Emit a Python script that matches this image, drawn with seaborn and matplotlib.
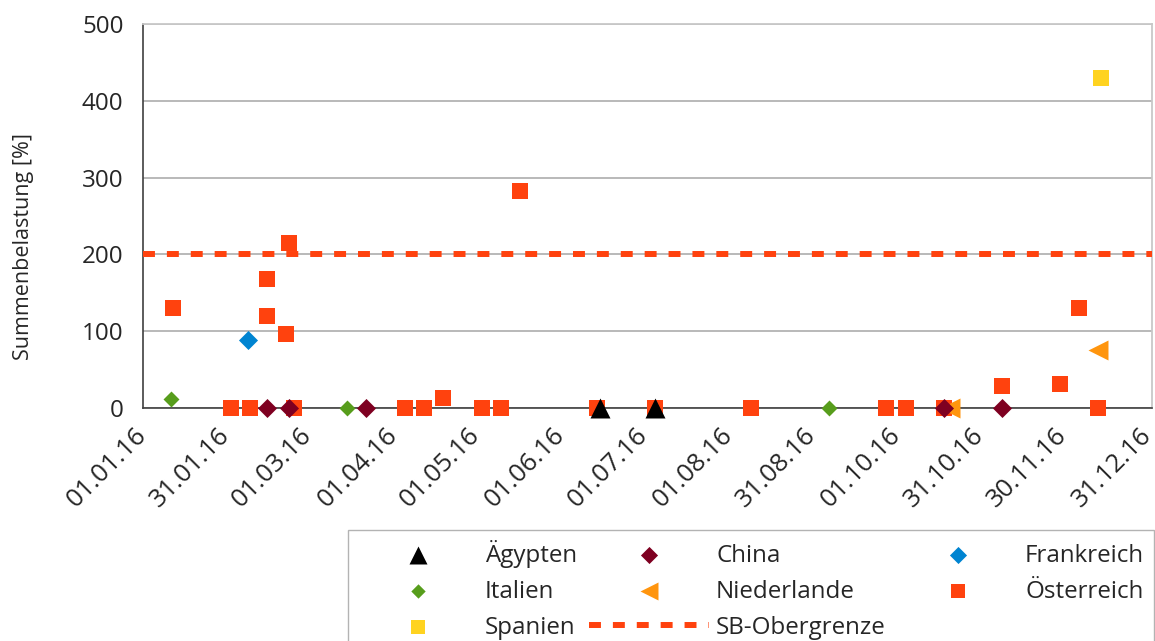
import pandas as pd
import matplotlib.pyplot as plt
import matplotlib.dates as mdates
import seaborn as sns

# Daten (Datum der Probe, Summenbelastung in %)
aegypten_datum = ["15.06.16", "05.07.16"]
aegypten_wert = [0, 0]

china_datum = ["15.02.16", "23.02.16", "22.03.16", "18.10.16", "08.11.16"]
china_wert = [0, 0, 0, 0, 0]

frankreich_datum = ["08.02.16"]
frankreich_wert = [88]

italien_datum = ["11.01.16", "15.03.16", "06.09.16"]
italien_wert = [12, 0, 0]

niederlande_datum = ["20.10.16", "13.12.16"]
niederlande_wert = [0, 76]

oesterreich_datum = ["12.01.16", "02.02.16", "09.02.16", "15.02.16", "15.02.16", "22.02.16",
                     "23.02.16", "25.02.16", "05.04.16", "12.04.16", "19.04.16", "03.05.16",
                     "10.05.16", "17.05.16", "14.06.16", "05.07.16", "09.08.16", "27.09.16",
                     "04.10.16", "18.10.16", "08.11.16", "29.11.16", "06.12.16", "13.12.16"]
oesterreich_wert = [130, 0, 0, 168, 120, 96, 215, 0, 0, 0, 13, 0,
                    0, 283, 0, 0, 0, 0, 0, 0, 28, 31, 130, 0]

spanien_datum = ["14.12.16"]
spanien_wert = [430]

sb_obergrenze = 200

x_ticks = ["01.01.16", "31.01.16", "01.03.16", "01.04.16", "01.05.16", "01.06.16", "01.07.16",
           "01.08.16", "31.08.16", "01.10.16", "31.10.16", "30.11.16", "31.12.16"]
y_ticks = [0, 100, 200, 300, 400, 500]

laender = ["Ägypten", "China", "Frankreich", "Italien", "Niederlande", "Österreich", "Spanien"]

# Tabelle zusammenbauen
teile = []
for land, datum, wert in [
    ("Ägypten", aegypten_datum, aegypten_wert),
    ("China", china_datum, china_wert),
    ("Frankreich", frankreich_datum, frankreich_wert),
    ("Italien", italien_datum, italien_wert),
    ("Niederlande", niederlande_datum, niederlande_wert),
    ("Österreich", oesterreich_datum, oesterreich_wert),
    ("Spanien", spanien_datum, spanien_wert),
]:
    teile.append(pd.DataFrame({"Land": land, "Datum": pd.to_datetime(datum, format="%d.%m.%y"), "Wert": wert}))
df = pd.concat(teile, ignore_index=True)

# Stil pro Land
farben = {"Ägypten": "#000000", "China": "#7E0021", "Frankreich": "#0084D1", "Italien": "#579D1C",
          "Niederlande": "#FF950E", "Österreich": "#FF420E", "Spanien": "#FFD320"}
marker = {"Ägypten": "^", "China": "D", "Frankreich": "D", "Italien": "D",
          "Niederlande": "<", "Österreich": "s", "Spanien": "s"}
groesse = {"Ägypten": 207, "China": 94, "Frankreich": 94, "Italien": 66,
           "Niederlande": 207, "Österreich": 133, "Spanien": 133}

sns.set_style("white")
plt.rcParams["font.family"] = ["Open Sans", "DejaVu Sans"]

fig, ax = plt.subplots(figsize=(11.55, 6.41), dpi=100)
fig.subplots_adjust(left=143 / 1155, right=1152 / 1155, top=1 - 24 / 641, bottom=1 - 408 / 641)

# in umgekehrter Reihenfolge zeichnen, damit Ägypten oben liegt
for i, land in enumerate(reversed(laender)):
    sns.scatterplot(data=df[df["Land"] == land], x="Datum", y="Wert", ax=ax,
                    marker=marker[land], s=groesse[land], color=farben[land],
                    linewidth=0, clip_on=False, zorder=4 + i, label=land, legend=False)

ax.axhline(sb_obergrenze, color="#FF420E", lw=4.3, dashes=(2, 2), zorder=3, label="SB-Obergrenze")

# Achsen
tick_pos = mdates.date2num(pd.to_datetime(x_ticks, format="%d.%m.%y"))
ax.set_xlim(tick_pos[0], tick_pos[-1] + 1.5)
ax.set_xticks(tick_pos)
ax.set_xticklabels(x_ticks, rotation=45, ha="right", va="center", rotation_mode="anchor")
ax.set_ylim(0, 500)
ax.set_yticks(y_ticks)
ax.tick_params(axis="both", labelsize=17.4, length=8, width=1, color="#404040", direction="out")
ax.tick_params(axis="y", pad=6)
ax.tick_params(axis="x", labelsize=18.5, pad=9)

ax.set_xlabel("")
ax.set_ylabel("Summenbelastung [%]", fontsize=15.5)
ax.yaxis.set_label_coords(-0.108, 0.42)

ax.yaxis.grid(True, color="#b3b3b3", lw=1.3)
ax.xaxis.grid(False)
ax.set_axisbelow(True)
for seite in ["left", "bottom"]:
    ax.spines[seite].set_color("#404040")
    ax.spines[seite].set_linewidth(1.2)
for seite in ["top", "right"]:
    ax.spines[seite].set_color("#c8c8c8")
    ax.spines[seite].set_linewidth(1.3)

# Legende: zeilenweise wie im Original (Matplotlib füllt spaltenweise)
handles, labels = ax.get_legend_handles_labels()
h = dict(zip(labels, handles))
reihenfolge = ["Ägypten", "Italien", "Spanien", "China", "Niederlande", "SB-Obergrenze",
               "Frankreich", "Österreich"]
fig.legend([h[n] for n in reihenfolge], reihenfolge, loc="upper left",
           bbox_to_anchor=(348 / 1155, 1 - 530 / 641), borderaxespad=0, ncol=3,
           fontsize=17.4, handlelength=4.96, handletextpad=0.3, columnspacing=0.5,
           labelspacing=0.5, borderpad=0.4, markerscale=0.9, scatterpoints=1,
           frameon=True, fancybox=False, framealpha=1, edgecolor="#b3b3b3")

plt.savefig("out.png", dpi=100)
